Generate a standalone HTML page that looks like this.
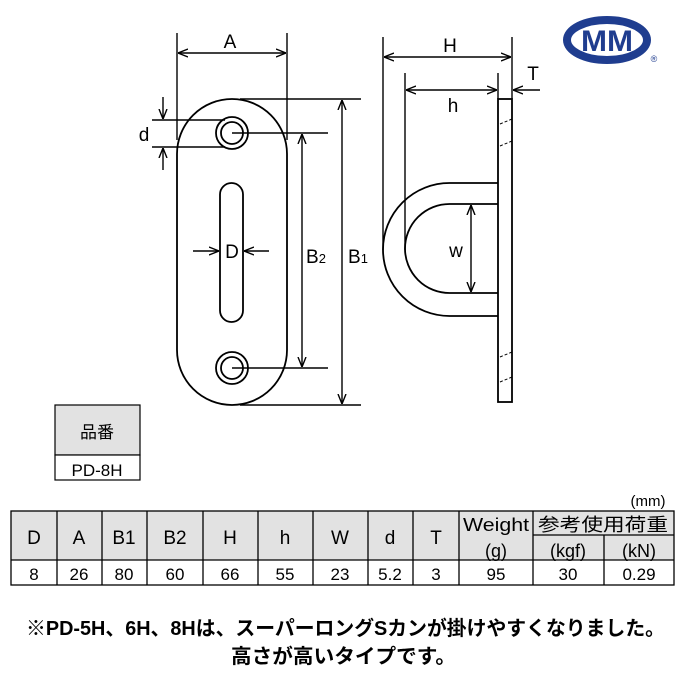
<!DOCTYPE html>
<html><head><meta charset="utf-8"><style>
html,body{margin:0;padding:0;background:#fff;}
svg{display:block;}
text{font-family:"Liberation Sans","Noto Sans CJK JP",sans-serif;fill:#000;}
</style></head><body>
<svg width="680" height="680" viewBox="0 0 680 680" xmlns="http://www.w3.org/2000/svg">
<defs>
<marker id="ar" viewBox="0 0 10 10" refX="10" refY="5" markerWidth="10" markerHeight="10" orient="auto-start-reverse" markerUnits="userSpaceOnUse">
<path d="M0,1 L10,5 L0,9" fill="none" stroke="#000" stroke-width="1.4"/></marker>
</defs>
<g fill="none" stroke="#000" stroke-width="1.8">
<rect x="177" y="99" width="110" height="306" rx="55" ry="55"/>
<circle cx="232" cy="133" r="16"/><circle cx="232" cy="133" r="11"/>
<circle cx="232" cy="368" r="16"/><circle cx="232" cy="368" r="11"/>
<rect x="220" y="183" width="23" height="139" rx="11.5" ry="11.5"/>
</g>
<g fill="none" stroke="#000" stroke-width="1.4">
<line x1="177" y1="33" x2="177" y2="140"/><line x1="287" y1="33" x2="287" y2="140"/>
<line x1="178" y1="53" x2="286" y2="53" marker-start="url(#ar)" marker-end="url(#ar)"/>
<line x1="152" y1="120" x2="225" y2="120"/><line x1="152" y1="147" x2="225" y2="147"/>
<line x1="163" y1="97" x2="163" y2="119" marker-end="url(#ar)"/>
<line x1="163" y1="170" x2="163" y2="148" marker-end="url(#ar)"/>
<line x1="193" y1="251" x2="219" y2="251" marker-end="url(#ar)"/>
<line x1="269" y1="251" x2="244" y2="251" marker-end="url(#ar)"/>
<line x1="232" y1="133" x2="328" y2="133"/><line x1="232" y1="368" x2="328" y2="368"/>
<line x1="302" y1="134" x2="302" y2="367" marker-start="url(#ar)" marker-end="url(#ar)"/>
<line x1="240" y1="99" x2="361" y2="99"/><line x1="240" y1="405" x2="361" y2="405"/>
<line x1="342" y1="100" x2="342" y2="404" marker-start="url(#ar)" marker-end="url(#ar)"/>
<line x1="383" y1="37" x2="383" y2="250"/><line x1="512" y1="37" x2="512" y2="99"/>
<line x1="384" y1="57" x2="511" y2="57" marker-start="url(#ar)" marker-end="url(#ar)"/>
<line x1="405" y1="73" x2="405" y2="250"/><line x1="498" y1="73" x2="498" y2="99"/>
<line x1="406" y1="90" x2="497" y2="90" marker-start="url(#ar)" marker-end="url(#ar)"/>
<line x1="540" y1="90" x2="513" y2="90" marker-end="url(#ar)"/>
<line x1="471" y1="205" x2="471" y2="292" marker-start="url(#ar)" marker-end="url(#ar)"/>
</g>
<g fill="none" stroke="#000" stroke-width="1.8">
<rect x="498" y="99" width="14" height="303"/>
<path d="M498,183 H449.5 A66.5,66.5 0 0 0 449.5,316 H498"/>
<path d="M498,204 H449.5 A44.5,44.5 0 0 0 449.5,293 H498"/>
</g>
<g stroke="#000" stroke-width="1" stroke-dasharray="3,2">
<line x1="500" y1="124" x2="512" y2="119"/><line x1="500" y1="146" x2="512" y2="141"/>
<line x1="500" y1="357" x2="512" y2="352"/><line x1="500" y1="382" x2="512" y2="377"/>
</g>
<g font-size="19">
<text x="230" y="48" text-anchor="middle">A</text>
<text x="144" y="141" text-anchor="middle">d</text>
<text x="232" y="258" text-anchor="middle">D</text>
<text x="306" y="263">B<tspan font-size="13">2</tspan></text>
<text x="348" y="263">B<tspan font-size="13">1</tspan></text>
<text x="450" y="52" text-anchor="middle">H</text>
<text x="453" y="112" text-anchor="middle">h</text>
<text x="533" y="80" text-anchor="middle">T</text>
<text x="456" y="257" text-anchor="middle">w</text>
</g>
<ellipse cx="607" cy="40" rx="40" ry="20" fill="none" stroke="#1f3d8f" stroke-width="8"/>
<text x="607" y="51" text-anchor="middle" font-size="30" font-weight="bold" textLength="52" lengthAdjust="spacingAndGlyphs" style="fill:#1f3d8f">MM</text>
<text x="654" y="62" text-anchor="middle" font-size="9" style="fill:#1f3d8f">®</text>
<rect x="55" y="405" width="85" height="50" fill="#e2e2e2" stroke="#000" stroke-width="1.2"/>
<rect x="55" y="455" width="85" height="25" fill="#fff" stroke="#000" stroke-width="1.2"/>
<text x="97" y="438" text-anchor="middle" font-size="17">品番</text>
<text x="97" y="476" text-anchor="middle" font-size="17">PD-8H</text>
<text x="648" y="506" text-anchor="middle" font-size="15">(mm)</text>
<rect x="11" y="511" width="663" height="49" fill="#e2e2e2"/>
<g stroke="#000" stroke-width="1.3" fill="none">
<rect x="11" y="511" width="663" height="74"/>
<line x1="11" y1="560" x2="674" y2="560"/>
<line x1="533" y1="535" x2="674" y2="535"/>
<line x1="57" y1="511" x2="57" y2="585"/><line x1="102" y1="511" x2="102" y2="585"/>
<line x1="147" y1="511" x2="147" y2="585"/><line x1="203" y1="511" x2="203" y2="585"/>
<line x1="258" y1="511" x2="258" y2="585"/><line x1="313" y1="511" x2="313" y2="585"/>
<line x1="368" y1="511" x2="368" y2="585"/><line x1="413" y1="511" x2="413" y2="585"/>
<line x1="459" y1="511" x2="459" y2="585"/><line x1="533" y1="511" x2="533" y2="585"/>
<line x1="604" y1="535" x2="604" y2="585"/>
</g>
<g font-size="19" text-anchor="middle">
<text x="34" y="544">D</text><text x="79" y="544">A</text><text x="124" y="544">B1</text>
<text x="175" y="544">B2</text><text x="230" y="544">H</text><text x="285" y="544">h</text>
<text x="340" y="544">W</text><text x="390" y="544">d</text><text x="436" y="544">T</text>
<text x="496" y="531" font-size="18" textLength="66" lengthAdjust="spacingAndGlyphs">Weight</text><text x="496" y="557" font-size="18">(g)</text>
<text x="603" y="531" font-size="18" textLength="130" lengthAdjust="spacingAndGlyphs">参考使用荷重</text>
<text x="568" y="557" font-size="18">(kgf)</text><text x="639" y="557" font-size="18">(kN)</text>
</g>
<g font-size="17" text-anchor="middle" style="fill:#333">
<text x="34" y="580">8</text><text x="79" y="580">26</text><text x="124" y="580">80</text>
<text x="175" y="580">60</text><text x="230" y="580">66</text><text x="285" y="580">55</text>
<text x="340" y="580">23</text><text x="390" y="580">5.2</text><text x="436" y="580">3</text>
<text x="496" y="580">95</text><text x="568" y="580">30</text><text x="639" y="580">0.29</text>
</g>
<text x="26" y="635" font-size="20" font-weight="bold" textLength="639" lengthAdjust="spacingAndGlyphs">※PD-5H、6H、8Hは、スーパーロングSカンが掛けやすくなりました。</text>
<text x="231" y="663" font-size="20" font-weight="bold" textLength="225" lengthAdjust="spacingAndGlyphs">高さが高いタイプです。</text>
</svg>
</body></html>
